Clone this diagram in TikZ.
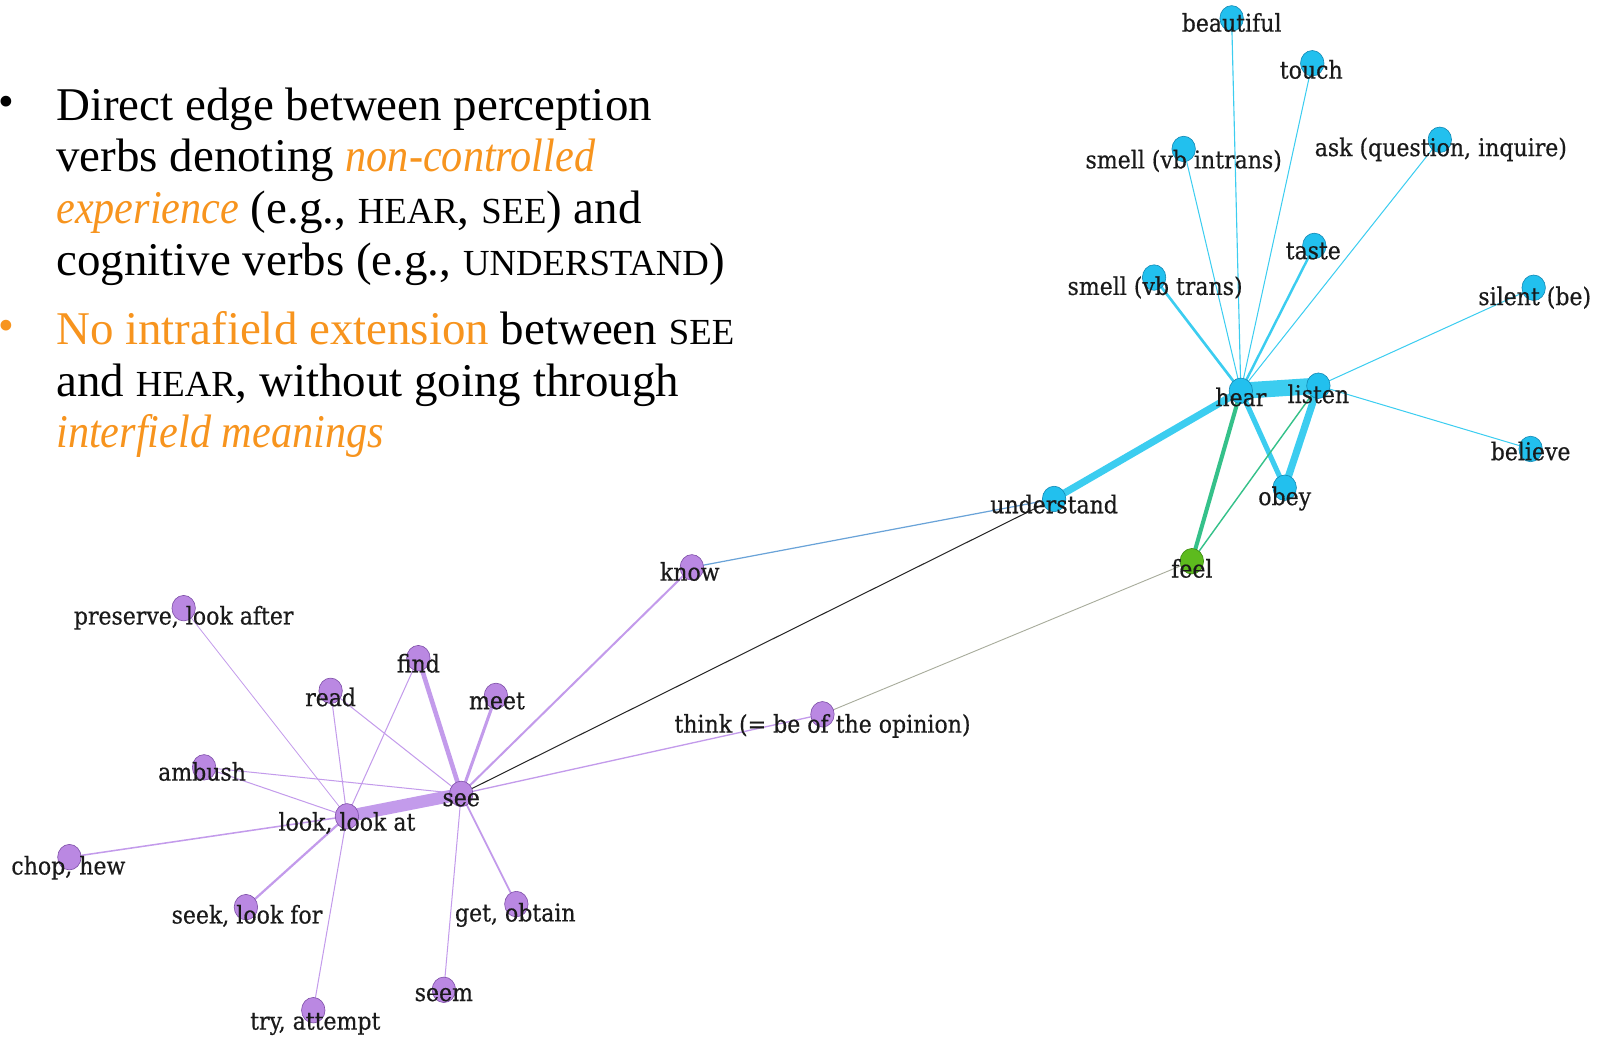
\documentclass[tikz,border=0pt]{standalone}
\usepackage{fontspec}
\setmainfont{Liberation Serif}[ItalicFeatures={FakeStretch=0.9}]
\newfontfamily\graphfont{DejaVu Serif Condensed}[FakeBold=0.5]
\usetikzlibrary{backgrounds,shapes.geometric}

\definecolor{accent}{HTML}{F7941E}
\definecolor{bluefill}{HTML}{22C0EE}
\definecolor{bluerim}{HTML}{1389B5}
\definecolor{blueedge}{HTML}{3CCDF0}
\definecolor{purplefill}{HTML}{BA88E2}
\definecolor{purplerim}{HTML}{7E4FA8}
\definecolor{purpleedge}{HTML}{C39BEB}
\definecolor{greenfill}{HTML}{5DBB1E}
\definecolor{greenrim}{HTML}{3A8A10}
\definecolor{greenedge}{HTML}{35C18A}
\definecolor{steeledge}{HTML}{6AA3D8}
\definecolor{greyedge}{HTML}{A8AC9C}
\definecolor{labelink}{HTML}{1A1A1A}

% small capitals built from scaled uppercase
\newcommand\smallcapsword[1]{{\fontsize{36}{36}\selectfont #1}}

\tikzset{
  bodyline/.style={inner sep=0pt, anchor=base west, font=\fontsize{46}{50}\selectfont},
  bulletmark/.style={inner sep=0pt, anchor=center, font=\fontsize{44}{44}\selectfont},
  vertex/.style={ellipse, minimum width=23pt, minimum height=25pt, inner sep=0pt, line width=0.6pt},
  bluev/.style={vertex, fill=bluefill, draw=bluerim},
  purplev/.style={vertex, fill=purplefill, draw=purplerim},
  greenv/.style={vertex, fill=greenfill, draw=greenrim},
  vlabel/.style={inner sep=0pt, anchor=base, text=labelink, font=\graphfont\fontsize{24}{24}\selectfont},
  bedge/.style={draw=blueedge, line width=#1}, bedge/.default=1pt,
  pedge/.style={draw=purpleedge, line width=#1}, pedge/.default=1pt,
  gedge/.style={draw=greenedge, line width=#1}, gedge/.default=1.5pt,
}

\begin{document}
\begin{tikzpicture}[x=1pt, y=-1pt]
\useasboundingbox (0,0) rectangle (1568,1016);

% ---- bullet text ----
\node[bulletmark] (bullet1) at (6,104) {•};
\node[bodyline] (t1) at (55,118) {Direct edge between perception};
\node[bodyline] (t2) at (55,168) {verbs denoting \textcolor{accent}{\textit{non-controlled}}};
\node[bodyline] (t3) at (55,219) {\textcolor{accent}{\textit{experience}} (e.g., \smallcapsword{HEAR}, \smallcapsword{SEE}) and};
\node[bodyline] (t4) at (55,270) {cognitive verbs (e.g., \smallcapsword{UNDERSTAND})};
\node[bulletmark, text=accent] (bullet2) at (6,324) {•};
\node[bodyline] (t5) at (55,338) {\textcolor{accent}{No intrafield extension} between \smallcapsword{SEE}};
\node[bodyline] (t6) at (55,389) {and \smallcapsword{HEAR}, without going through};
\node[bodyline] (t7) at (55,439) {\textcolor{accent}{\textit{interfield meanings}}};

% ---- vertices ----
\node[bluev] (beautiful) at (1207,18) {};
\node[bluev] (touch) at (1286,62) {};
\node[bluev] (smelli) at (1160,146) {};
\node[bluev] (ask) at (1411,137) {};
\node[bluev] (taste) at (1288,241) {};
\node[bluev] (smellt) at (1131,272) {};
\node[bluev] (silent) at (1503,282) {};
\node[bluev] (hear) at (1216,383) {};
\node[bluev] (listen) at (1292,378) {};
\node[bluev] (believe) at (1500,440) {};
\node[bluev] (obey) at (1259,478) {};
\node[bluev] (understand) at (1033,489) {};
\node[greenv] (feel) at (1168,550) {};
\node[purplev] (know) at (678,556) {};
\node[purplev] (preserve) at (180,596) {};
\node[purplev] (find) at (410,645) {};
\node[purplev] (read) at (324,677) {};
\node[purplev] (meet) at (486,682) {};
\node[purplev] (think) at (806,700) {};
\node[purplev] (ambush) at (200,752) {};
\node[purplev] (see) at (452,778) {};
\node[purplev] (look) at (340,800) {};
\node[purplev] (chop) at (68,840) {};
\node[purplev] (seek) at (241,889) {};
\node[purplev] (get) at (506,886) {};
\node[purplev] (seem) at (435,970) {};
\node[purplev] (try) at (307,990) {};

% ---- vertex labels ----
\node[vlabel] (lbeautiful) at (1207,31) {beautiful};
\node[vlabel] (ltouch) at (1285,77) {touch};
\node[vlabel] (lsmelli) at (1160,165) {smell (vb intrans)};
\node[vlabel] (lask) at (1412,153) {ask (question, inquire)};
\node[vlabel] (ltaste) at (1287,254) {taste};
\node[vlabel] (lsmellt) at (1132,289) {smell (vb trans)};
\node[vlabel] (lsilent) at (1504,299) {silent (be)};
\node[vlabel] (lhear) at (1216,398) {hear};
\node[vlabel] (llisten) at (1292,395) {listen};
\node[vlabel] (lbelieve) at (1500,451) {believe};
\node[vlabel] (lobey) at (1259,495) {obey};
\node[vlabel] (lunderstand) at (1033,503) {understand};
\node[vlabel] (lfeel) at (1168,566) {feel};
\node[vlabel] (lknow) at (676,569) {know};
\node[vlabel] (lpreserve) at (180,612) {preserve, look after};
\node[vlabel] (lfind) at (410,659) {find};
\node[vlabel] (lread) at (324,692) {read};
\node[vlabel] (lmeet) at (487,695) {meet};
\node[vlabel] (lthink) at (806,718) {think (= be of the opinion)};
\node[vlabel] (lambush) at (198,765) {ambush};
\node[vlabel] (lsee) at (452,790) {see};
\node[vlabel] (llook) at (340,814) {look, look at};
\node[vlabel] (lchop) at (67,857) {chop, hew};
\node[vlabel] (lseek) at (242,905) {seek, look for};
\node[vlabel] (lget) at (505,903) {get, obtain};
\node[vlabel] (lseem) at (435,981) {seem};
\node[vlabel] (ltry) at (309,1009) {try, attempt};

% ---- edges ----
\begin{pgfonlayer}{background}
  % hearing cluster
  \draw[bedge=1.1pt] (hear.center) -- (beautiful.center);
  \draw[bedge=1pt] (hear.center) -- (touch.center);
  \draw[bedge=1pt] (hear.center) -- (smelli.center);
  \draw[bedge=1pt] (hear.center) -- (ask.center);
  \draw[bedge=2.4pt] (hear.center) -- (taste.center);
  \draw[bedge=2.6pt] (hear.center) -- (smellt.center);
  \draw[bedge=1pt] (listen.center) -- (silent.center);
  \draw[bedge=1pt] (listen.center) -- (believe.center);
  \draw[bedge=16pt] (hear.center) -- (listen.center);
  \draw[bedge=7pt] (hear.center) -- (understand.center);
  \draw[bedge=5pt] (hear.center) -- (obey.center);
  \draw[bedge=7pt] (listen.center) -- (obey.center);
  \draw[gedge=4pt] (hear.center) -- (feel.center);
  \draw[gedge=1.4pt] (listen.center) -- (feel.center);
  % links between the two clusters
  \draw[draw=steeledge, line width=1.2pt] (understand.center) -- (know.center);
  \draw[draw=black!85, line width=1pt] (understand.center) -- (see.center);
  \draw[draw=greyedge, line width=0.9pt] (feel.center) -- (think.center);
  \draw[pedge=1.3pt] (see.center) -- (think.center);
  \draw[pedge=2pt] (see.center) -- (know.center);
  % seeing cluster
  \draw[pedge=3pt] (see.center) -- (meet.center);
  \draw[pedge=4.5pt] (see.center) -- (find.center);
  \draw[pedge=1pt] (see.center) -- (read.center);
  \draw[pedge=1pt] (see.center) -- (ambush.center);
  \draw[pedge=12pt] (see.center) -- (look.center);
  \draw[pedge=1pt] (see.center) -- (seem.center);
  \draw[pedge=1.8pt] (see.center) -- (get.center);
  \draw[pedge=0.8pt] (look.center) -- (preserve.center);
  \draw[pedge=1pt] (look.center) -- (read.center);
  \draw[pedge=1pt] (look.center) -- (find.center);
  \draw[pedge=1pt] (look.center) -- (ambush.center);
  \draw[pedge=1.5pt] (look.center) -- (chop.center);
  \draw[pedge=2.2pt] (look.center) -- (seek.center);
  \draw[pedge=1pt] (look.center) -- (try.center);
\end{pgfonlayer}
\end{tikzpicture}
\end{document}
